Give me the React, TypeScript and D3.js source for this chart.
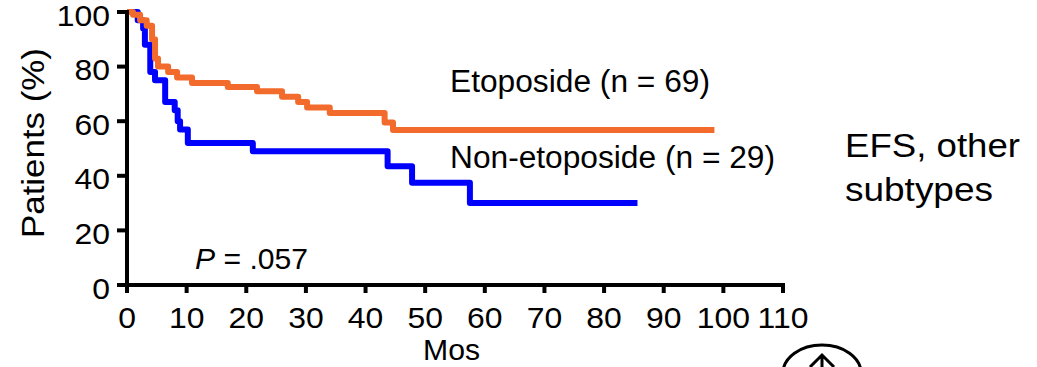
import React from 'react';
import * as d3 from 'd3';

// Kaplan-Meier steps (months, % patients)
const etoTimes = [0, 1.0, 2.2, 3.3, 4.2, 4.7, 5.2, 6.9, 8.4, 10.9, 16.9, 21.8, 26, 28.7, 30.2, 34, 43.2, 44.6, 98.5];
const etoValues = [100, 99, 97, 95, 90, 83, 80, 78, 76, 74, 72.5, 71, 69, 67, 65, 63, 59.5, 56.8, 56.8];

const nonEtoTimes = [0, 1.8, 2.7, 3.0, 3.9, 4.7, 6.4, 8.0, 8.5, 8.9, 10.2, 21.1, 43.7, 47.8, 57.5, 85.6];
const nonEtoValues = [100, 97, 94, 88, 78, 75, 67, 64, 60, 57, 52, 49, 43.5, 37.5, 30, 30];

const xTicks = [0, 10, 20, 30, 40, 50, 60, 70, 80, 90, 100, 110];
const yTicks = [0, 20, 40, 60, 80, 100];

const W = 1037;
const H = 367;
const FONT = '"Liberation Sans", Arial, sans-serif';

export default function App() {
  const x = d3.scaleLinear().domain([0, 110]).range([127, 783]);
  const y = d3.scaleLinear().domain([0, 100]).range([285, 12]);

  const line = d3
    .line<[number, number]>()
    .x((d) => x(d[0]))
    .y((d) => y(d[1]))
    .curve(d3.curveStepAfter);

  const eto = etoTimes.map((t, i) => [t, etoValues[i]] as [number, number]);
  const nonEto = nonEtoTimes.map((t, i) => [t, nonEtoValues[i]] as [number, number]);

  // the original text is drawn a little wider than Arial
  const stretch = 'scale(1.1,1)';

  return (
    <svg
      width={W}
      height={H}
      style={{ position: 'absolute', left: 0, top: 0, background: '#fff' }}
      fontFamily={FONT}
    >
      {/* curves */}
      <path d={line(nonEto) || ''} fill="none" stroke="#0000FF" strokeWidth={6} strokeLinejoin="round" />
      <path d={line(eto) || ''} fill="none" stroke="#F26B2C" strokeWidth={6} strokeLinejoin="round" />

      {/* y axis */}
      <line x1={x(0)} x2={x(0)} y1={y(100) - 2} y2={y(0) + 2} stroke="#000" strokeWidth={4} />
      {yTicks.map((t) => (
        <g key={'y' + t}>
          <line x1={x(0) - 10} x2={x(0)} y1={y(t)} y2={y(t)} stroke="#000" strokeWidth={4} />
          <text
            transform={`translate(110,${y(t) + 6}) ${stretch}`}
            textAnchor="end"
            dominantBaseline="middle"
            fontSize={29}
          >
            {t}
          </text>
        </g>
      ))}

      {/* x axis */}
      <line x1={x(0) - 2} x2={x(110) + 2} y1={y(0)} y2={y(0)} stroke="#000" strokeWidth={4} />
      {xTicks.map((t) => (
        <g key={'x' + t}>
          <line x1={x(t)} x2={x(t)} y1={y(0)} y2={y(0) + 8} stroke="#000" strokeWidth={4} />
          <text
            transform={`translate(${x(t)},320) ${stretch}`}
            textAnchor="middle"
            dominantBaseline="middle"
            fontSize={29}
          >
            {t}
          </text>
        </g>
      ))}

      <text x={423} y={352} dominantBaseline="middle" fontSize={30} textLength={57} lengthAdjust="spacingAndGlyphs">
        Mos
      </text>
      <text
        transform={`translate(36,143) rotate(-90)`}
        x={-95}
        dominantBaseline="middle"
        fontSize={31}
        textLength={190}
        lengthAdjust="spacingAndGlyphs"
      >
        Patients (%)
      </text>

      {/* labels */}
      <text x={450} y={84} dominantBaseline="middle" fontSize={31} textLength={260} lengthAdjust="spacingAndGlyphs">
        Etoposide (n = 69)
      </text>
      <text x={450} y={160} dominantBaseline="middle" fontSize={31} textLength={325} lengthAdjust="spacingAndGlyphs">
        Non-etoposide (n = 29)
      </text>
      <text x={195} y={261} dominantBaseline="middle" fontSize={30} textLength={113} lengthAdjust="spacingAndGlyphs">
        <tspan fontStyle="italic">P</tspan> = .057
      </text>

      <text x={845} y={148} dominantBaseline="middle" fontSize={33} textLength={175} lengthAdjust="spacingAndGlyphs">
        EFS, other
      </text>
      <text x={845} y={192} dominantBaseline="middle" fontSize={33} textLength={148} lengthAdjust="spacingAndGlyphs">
        subtypes
      </text>

      {/* logo fragment at the bottom edge */}
      <ellipse cx={822} cy={373} rx={39} ry={28} fill="none" stroke="#000" strokeWidth={3} />
      <path d="M822,356 L822,367 M810,367 L822,355 L834,367" fill="none" stroke="#000" strokeWidth={3} />
    </svg>
  );
}
